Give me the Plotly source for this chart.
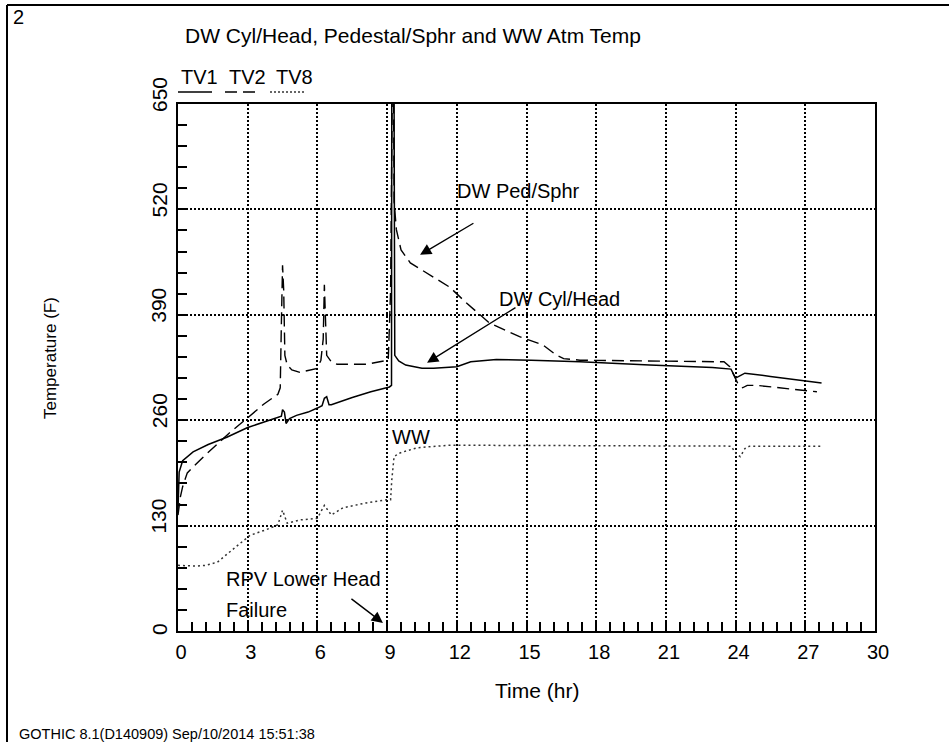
import plotly.graph_objects as go

# ---------------- data ----------------
tv1_t = [0.0, 0.05, 0.2, 0.65, 1.3, 2.1, 3.0, 3.7, 4.3, 4.45, 4.5, 4.58, 4.65, 4.8, 5.1, 5.6, 6.0, 6.2, 6.3,
         6.4, 6.5, 6.6, 7.5, 8.3, 9.1, 9.19, 9.2, 9.3, 9.33, 9.5, 9.8, 10.5, 11.0, 12.0, 12.6, 13.7, 15.2,
         17.3, 20.3, 23.0, 23.8, 24.0, 24.2, 24.4, 25.5, 27.7]
tv1_v = [150, 196, 210, 221, 230, 239, 251, 258, 264, 265, 273, 270, 256, 262, 266, 270, 275, 278, 287,
         289, 279, 279, 288, 295, 301, 303, 660, 660, 340, 333, 328, 324, 324, 326, 332, 335, 334,
         332, 328, 325, 323, 312, 315, 318, 314, 306]

tv2_t = [0.0, 0.1, 0.2, 0.4, 1.1, 2.2, 3.0, 3.7, 4.3, 4.4, 4.45, 4.5, 4.55, 4.6, 4.7, 4.9, 5.25, 6.0, 6.15,
         6.25, 6.3, 6.35, 6.4, 6.6, 6.85, 8.1, 8.8, 9.05, 9.15, 9.22, 9.28, 9.3, 9.4, 9.6, 10.0, 10.85,
         11.7, 12.4, 13.4, 14.7, 15.7, 16.3, 16.6, 17.3, 20.0, 23.5, 23.75, 24.1, 24.3, 24.5, 24.9, 25.5, 27.5]
tv2_v = [143, 165, 178, 195, 215, 244, 263, 280, 292, 300, 380, 451, 420, 340, 328, 322, 319, 324, 334,
         360, 427, 380, 340, 332, 329, 329, 332, 334, 420, 660, 660, 530, 495, 470, 454, 439,
         424, 405, 380, 363, 353, 340, 336, 334, 333, 332, 326, 305, 300, 303, 303, 301, 295]

tv8_t = [0.0, 0.8, 1.2, 1.7, 2.5, 3.1, 3.8, 4.3, 4.5, 4.7, 5.25, 6.0, 6.3, 6.6, 7.1, 8.1, 9.0, 9.15,
         9.2, 9.3, 9.5, 9.7, 10.3, 11.6, 13.0, 23.8, 24.05, 24.2, 24.4, 24.6, 27.7]
tv8_v = [81, 80, 81, 85, 104, 118, 125, 131, 149, 133, 137, 139, 155, 143, 152, 158, 162, 162,
         186, 215, 219, 221, 226, 229, 229, 228, 218, 215, 225, 228, 228]

x_ticks = [0, 3, 6, 9, 12, 15, 18, 21, 24, 27, 30]
y_ticks = [0, 130, 260, 390, 520, 650]
series_names = ["TV1", "TV2", "TV8"]

# ---------------- layout helpers (pixel -> paper) ----------------
W, H = 949, 742
L, R, T, B = 178, 875, 104, 631


def px(x):
    return (x - L) / (R - L)


def py(y):
    return (B - y) / (B - T)


REG = "Liberation Sans, Arial, sans-serif"
NAR = "Liberation Sans Narrow, Arial Narrow, Liberation Sans, sans-serif"

fig = go.Figure()
fig.add_trace(go.Scatter(x=tv1_t, y=tv1_v, mode="lines", name="TV1",
                         line=dict(color="black", width=1.5)))
fig.add_trace(go.Scatter(x=tv2_t, y=tv2_v, mode="lines", name="TV2",
                         line=dict(color="black", width=1.4, dash="12px,6px")))
fig.add_trace(go.Scatter(x=tv8_t, y=tv8_v, mode="lines", name="TV8",
                         line=dict(color="#333333", width=1.5, dash="2px,3px")))

axis_common = dict(
    ticks="inside", ticklen=9, tickwidth=1.5, tickcolor="black",
    showline=True, linewidth=2, linecolor="black", mirror=True,
    showgrid=True, gridcolor="black", gridwidth=2, griddash="2px,2px",
    zeroline=False,
)

fig.update_layout(
    width=W, height=H,
    margin=dict(l=L, r=W - R, t=T, b=H - B, pad=0),
    paper_bgcolor="white", plot_bgcolor="white",
    showlegend=False,
    xaxis=dict(range=[0, 30], tickmode="array", tickvals=x_ticks,
               ticktext=[str(v) for v in x_ticks],
               tickfont=dict(family=NAR, size=20, color="black"),
               ticklabelshift=3, ticklabelstandoff=2,
               minor=dict(ticks="inside", dtick=0.6, ticklen=9, tickwidth=1.5,
                          tickcolor="black", showgrid=False),
               **axis_common),
    yaxis=dict(range=[0, 650], tickmode="array", tickvals=y_ticks, showticklabels=False,
               minor=dict(ticks="inside", dtick=26, ticklen=9, tickwidth=1.5,
                          tickcolor="black", showgrid=False),
               **axis_common),
)

ann = []
# y tick labels (rotated)
for v in y_ticks:
    ann.append(dict(xref="paper", yref="y", x=px(159), y=v, text=str(v), showarrow=False,
                    textangle=-90, xanchor="center", yanchor="middle",
                    yshift=2 if v == 0 else 9,
                    font=dict(family=REG, size=21, color="black")))

# axis titles
ann.append(dict(xref="paper", yref="paper", x=px(50), y=py(358), text="Temperature (F)",
                showarrow=False, textangle=-90, xanchor="center", yanchor="middle",
                font=dict(family=REG, size=17, color="black")))
ann.append(dict(xref="paper", yref="paper", x=px(537), y=py(690), text="Time (hr)",
                showarrow=False, xanchor="center", yanchor="middle",
                font=dict(family=NAR, size=21, color="black")))
# title and page number
ann.append(dict(xref="paper", yref="paper", x=px(183), y=py(35),
                text="DW Cyl/Head, Pedestal/Sphr and WW Atm Temp", showarrow=False,
                xanchor="left", yanchor="middle", font=dict(family=REG, size=21, color="black")))
ann.append(dict(xref="paper", yref="paper", x=px(11), y=py(17), text="2", showarrow=False,
                xanchor="left", yanchor="middle", font=dict(family=REG, size=20, color="black")))
# footer
ann.append(dict(xref="paper", yref="paper", x=px(17), y=py(734),
                text="GOTHIC 8.1(D140909) Sep/10/2014 15:51:38", showarrow=False,
                xanchor="left", yanchor="middle", font=dict(family=NAR, size=14.5, color="black")))
# legend labels
for name, xl in zip(series_names, [179, 227, 274]):
    ann.append(dict(xref="paper", yref="paper", x=px(xl), y=py(77), text=name, showarrow=False,
                    xanchor="left", yanchor="middle", font=dict(family=REG, size=20, color="black")))

# in-plot labels
lab_font = dict(family=REG, size=20, color="black")
ann.append(dict(xref="x", yref="y", x=11.92, y=543, text="DW Ped/Sphr", showarrow=False,
                xanchor="left", yanchor="middle", font=lab_font))
ann.append(dict(xref="x", yref="y", x=13.73, y=409, text="DW Cyl/Head", showarrow=False,
                xanchor="left", yanchor="middle", font=lab_font))
ann.append(dict(xref="x", yref="y", x=9.13, y=239, text="WW", showarrow=False,
                xanchor="left", yanchor="middle", font=lab_font))
ann.append(dict(xref="x", yref="y", x=1.98, y=64, text="RPV Lower Head", showarrow=False,
                xanchor="left", yanchor="middle", font=lab_font))
ann.append(dict(xref="x", yref="y", x=1.98, y=26, text="Failure", showarrow=False,
                xanchor="left", yanchor="middle", font=lab_font))

# arrows (tail -> head), data units
arrows = [((12.78, 504), (10.42, 464)), ((14.59, 400), (10.72, 331)), ((7.40, 41), (8.82, 10))]
for (tx, ty), (hx, hy) in arrows:
    ann.append(dict(xref="x", yref="y", axref="x", ayref="y", x=hx, y=hy, ax=tx, ay=ty,
                    text="", showarrow=True, arrowhead=2, arrowsize=1.6, arrowwidth=1.4,
                    arrowcolor="black", standoff=0))

fig.update_layout(annotations=ann)

# legend line samples & page border
shapes = [
    dict(type="line", xref="paper", yref="paper", x0=px(178), x1=px(212), y0=py(92), y1=py(92),
         line=dict(color="black", width=1.5)),
    dict(type="line", xref="paper", yref="paper", x0=px(225), x1=px(258), y0=py(92), y1=py(92),
         line=dict(color="black", width=1.5, dash="12px,6px")),
    dict(type="line", xref="paper", yref="paper", x0=px(270), x1=px(305), y0=py(92), y1=py(92),
         line=dict(color="#333333", width=1.5, dash="2px,2px")),
    dict(type="line", xref="paper", yref="paper", x0=px(7), x1=px(7), y0=py(5), y1=py(760),
         line=dict(color="black", width=2)),
    dict(type="line", xref="paper", yref="paper", x0=px(7), x1=px(970), y0=py(5), y1=py(5),
         line=dict(color="black", width=2)),
]
fig.update_layout(shapes=shapes)

fig.write_html("out.html")
